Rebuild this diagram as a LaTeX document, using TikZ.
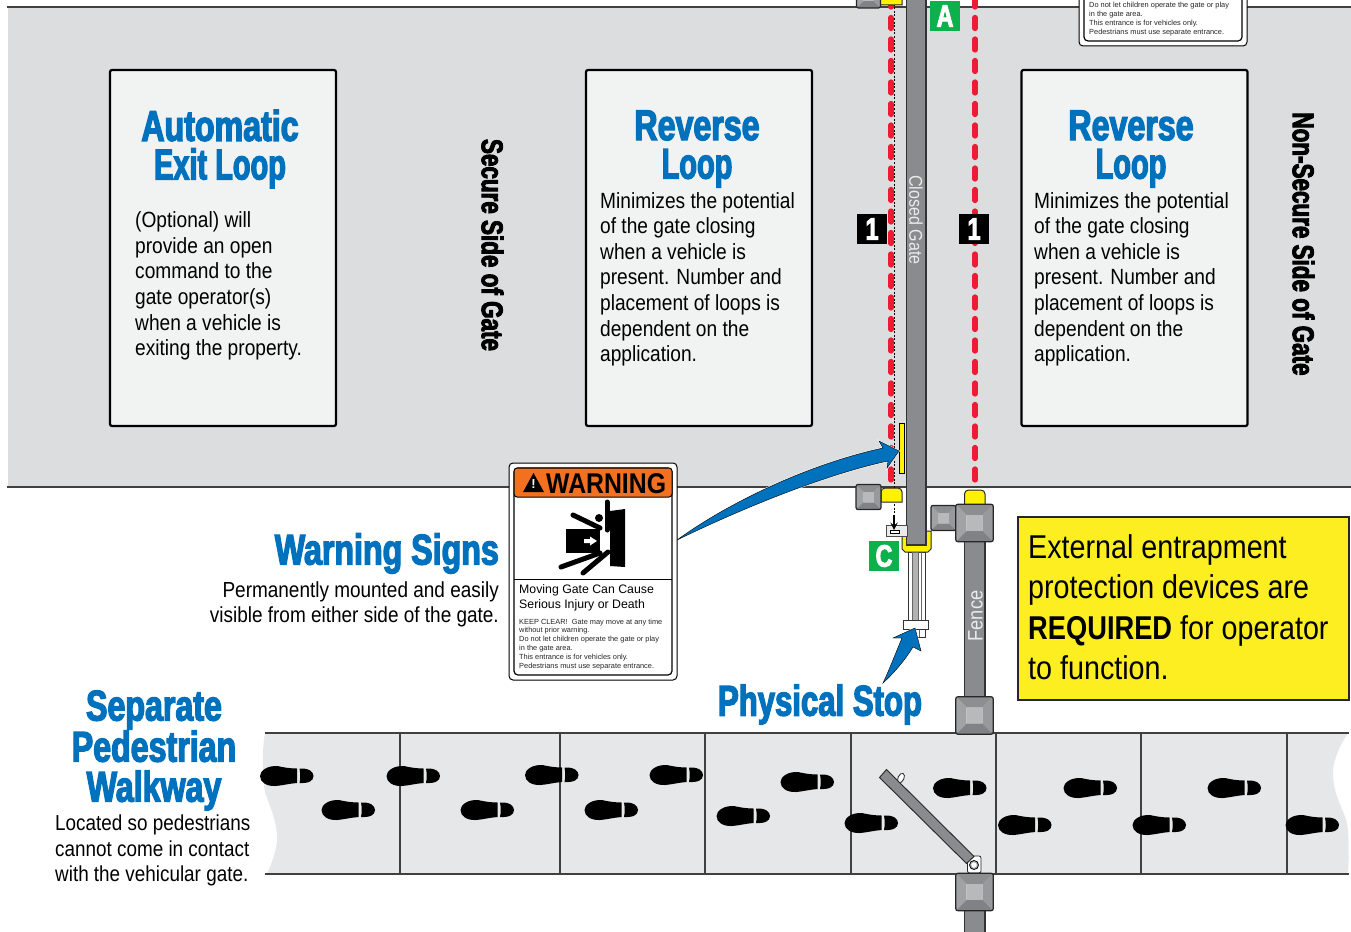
\documentclass[tikz,border=0pt]{standalone}
\usepackage{fontspec}
\setmainfont{Liberation Sans}
\newfontfamily\condfont[FakeStretch=0.87]{Liberation Sans}
\newfontfamily\headfont[FakeStretch=0.748,BoldFeatures={FakeBold=3}]{Liberation Sans}
\newcommand{\narrowline}[1]{\scalebox{.9}[1]{#1}}
\definecolor{roadgray}{HTML}{DCDDDE}
\definecolor{walkgray}{HTML}{E6E7E8}
\definecolor{boxfill}{HTML}{F1F3F3}
\definecolor{headblue}{HTML}{0071BC}
\definecolor{gatered}{HTML}{ED1C34}
\definecolor{gategray}{HTML}{898B8E}
\definecolor{capyellow}{HTML}{FFF200}
\definecolor{noteyellow}{HTML}{FDEE21}
\definecolor{tagorange}{HTML}{F37021}
\definecolor{taggreen}{HTML}{0DB14B}
\tikzset{
  loopbox/.style={draw=black, fill=boxfill, line width=2.2pt, rounded corners=2pt, minimum width=226pt, minimum height=356pt},
  heading/.style={text=headblue, align=center, inner sep=0pt, font=\headfont\bfseries\fontsize{43}{38.5}\selectfont},
  bodytext/.style={align=left, anchor=north west, inner sep=0pt, font=\condfont\fontsize{22}{25.6}\selectfont},
  sidetext/.style={rotate=-90, inner sep=0pt, font=\headfont\bfseries\fontsize{30}{30}\selectfont},
  numtag/.style={fill=black, text=white, minimum size=30pt, inner sep=0pt, font=\headfont\bfseries\fontsize{31}{31}\selectfont},
  lettertag/.style={fill=taggreen, text=white, minimum size=30pt, inner sep=0pt, font=\headfont\bfseries\fontsize{31}{31}\selectfont},
  redline/.style={draw=gatered, line width=5.2pt, line cap=round, dash pattern=on 11pt off 10.5pt},
  barline/.style={draw=black!80, line width=1.2pt, fill=gategray},
  capshape/.style={draw=black!85, line width=1pt, fill=capyellow},
  walkline/.style={draw=black!75, line width=1.1pt},
  blueshaft/.style={fill=headblue, preaction={draw=white, line width=1.5pt}},
  post/.pic={
    \fill[postleft] (-1,-1) -- (-1,1) -- (-.42,.42) -- (-.42,-.42) -- cycle;
    \fill[postright] (1,-1) -- (1,1) -- (.42,.42) -- (.42,-.42) -- cycle;
    \fill[posttop] (-1,-1) -- (1,-1) -- (.42,-.42) -- (-.42,-.42) -- cycle;
    \fill[postbot] (-1,1) -- (1,1) -- (.42,.42) -- (-.42,.42) -- cycle;
    \fill[postmid] (-.42,-.42) rectangle (.42,.42);
    \draw[black!85, line width=1.2pt, rounded corners=2pt] (-1,-1) rectangle (1,1);
  },
  foot/.pic={
    \fill[black] (-26.5,0) .. controls (-26.5,-6) and (-18,-10.5) .. (-9,-10) .. controls (-3,-8.5) and (4,-7.5) .. (10.5,-7.5) -- (10.5,7) .. controls (3,7.5) and (-4,9.5) .. (-11,10) .. controls (-20,10.5) and (-26.5,6) .. (-26.5,0);
    \fill[black] (13,-7.5) .. controls (22,-8) and (27,-4.5) .. (27,0) .. controls (27,5) and (22,7.5) .. (13,7) .. controls (14,2) and (14,-2) .. (13,-7.5);
  },
}
\definecolor{postleft}{HTML}{A0A2A4}
\definecolor{postright}{HTML}{97999C}
\definecolor{posttop}{HTML}{8C8E90}
\definecolor{postbot}{HTML}{808285}
\definecolor{postmid}{HTML}{B7B9BB}
\begin{document}
\begin{tikzpicture}[x=1pt, y=-1pt]
    \useasboundingbox (0,0) rectangle (1351,931);

    % road
    \fill[roadgray] (8,7) rectangle (1351,487);
    \draw[black!75, line width=1.2pt] (7,7) -- (1351,7);
    \draw[black!75, line width=1.2pt] (7,487) -- (1351,487);

    % text panels
    \node[loopbox] (exitbox) at (223,248) {};
    \node[loopbox] (revboxa) at (699,248) {};
    \node[loopbox] (revboxb) at (1134.5,248) {};

    \node[heading] (exithead) at (220,149) {Automatic\\\narrowline{Exit Loop}};
    \node[heading] (revheada) at (697,149) {Reverse\\\narrowline{Loop}};
    \node[heading] (revheadb) at (1131,149) {Reverse\\\narrowline{Loop}};
    \node[bodytext] (exittext) at (135,211.5) {(Optional) will\\provide an open\\command to the\\gate operator(s)\\when a vehicle is\\exiting the property.};
    \node[bodytext] (revtexta) at (600,192) {Minimizes the potential\\of the gate closing\\when a vehicle is\\present. Number and\\placement of loops is\\dependent on the\\application.};
    \node[bodytext] (revtextb) at (1034,192) {Minimizes the potential\\of the gate closing\\when a vehicle is\\present. Number and\\placement of loops is\\dependent on the\\application.};

    \node[sidetext] (secure) at (492.5,245) {Secure Side of Gate};
    \node[sidetext] (nonsecure) at (1303.5,244) {Non-Secure Side of Gate};

    % top sign, cut by the page edge
    \draw[black, line width=1pt, fill=white, rounded corners=4pt] (1079,-12) rectangle (1247,46);
    \draw[black, line width=1.2pt, fill=white, rounded corners=4pt] (1084,-12) rectangle (1242,41);
    \node[align=left, anchor=north west, inner sep=0pt, text=black!85, font=\fontsize{7.4}{8.9}\selectfont] (topsign) at (1089,2) {Do not let children operate the gate or play\\in the gate area.\\This entrance is for vehicles only.\\Pedestrians must use separate entrance.};

    % safety lines
    \draw[redline] (891,-4) -- (891,487);
    \draw[redline] (975,-4) -- (975,487);
    \draw[black, line width=1pt, dash pattern=on 2pt off 1.6pt] (894,0) -- (894,525);

    % gate
    \draw[capshape] (902,531) -- (902,549) -- (905,552) -- (928,552) -- (931,549) -- (931,531) -- cycle;
    \draw[barline] (906.5,-4) rectangle (926,545);
    \node[rotate=-90, inner sep=0pt, text=black!8, font=\condfont\fontsize{18.5}{19}\selectfont] (closedgate) at (916,220) {Closed Gate};
    \draw[black, line width=.8pt, fill=capyellow] (899,423) rectangle (904,473);

    % track and stop
    \draw[black!80, line width=.8pt, fill=white] (908,552) rectangle (925,620);
    \draw[black!60, line width=.6pt, fill=gray!60] (912,552) rectangle (918,620);
    \draw[black!60, line width=.6pt] (921,552) -- (921,620);
    \draw[black!80, line width=.8pt, fill=white] (914,629) rectangle (925,637);
    \draw[black!60, line width=.6pt] (919,629) -- (919,637);
    \draw[black!80, line width=.8pt, fill=white] (903.5,620) rectangle (928,629);

    % sensor bracket
    \draw[black!70, line width=.8pt, fill=black!8] (886.5,525) rectangle (907,536);
    \draw[black, line width=.6pt, fill=white] (890,530) rectangle (899,533);
    \draw[black, line width=2.2pt, -stealth] (894,515) -- (894,530);

    % posts and caps
    \draw[capshape] (880,8) [rounded corners=4pt] -- (880,-6) -- (902,-6) [sharp corners] -- (902,5) -- (880,5) -- cycle;
    \pic[scale=12] at (868.5,-4) {post};
    \draw[capshape] (881,502) [rounded corners=4pt] -- (881,488) -- (902,488) [sharp corners] -- (902,502) -- cycle;
    \pic[scale=12.5] at (868.5,497) {post};
    \draw[capshape] (964.5,506) [rounded corners=4pt] -- (964.5,490) -- (985,490) [sharp corners] -- (985,506) -- cycle;
    \draw[barline] (964.5,540) rectangle (985,699);
    \draw[barline] (964.5,909) rectangle (985,936);
    \node[rotate=90, inner sep=0pt, text=black!8, font=\condfont\fontsize{21}{21}\selectfont] (fence) at (975.5,616) {Fence};
    \pic[scale=12.5] at (943.5,518) {post};
    \pic[scale=18.7] at (974.5,523) {post};

    % tags
    \node[lettertag] (taga) at (945,16) {A};
    \node[lettertag] (tagc) at (884,556) {C};
    \node[numtag] (numa) at (872,229) {1};
    \node[numtag] (numb) at (974,229) {1};

    % arrows
    \draw[blueshaft] (677,540) .. controls (725,505) and (805,465) .. (883,448) -- (879,441) -- (899,451) -- (887,468) -- (888,461) .. controls (845,470) and (770,495) .. (677,540) -- cycle;
    \draw[blueshaft] (883,683) .. controls (890,668) and (896,652) .. (902,638) -- (893,638) -- (915,628) -- (921,651) -- (913,647) .. controls (905,660) and (895,672) .. (883,683) -- cycle;

    % warning sign
    \draw[black, line width=1pt, fill=white, rounded corners=4pt] (509,463) rectangle (677,680);
    \draw[black, line width=1.2pt, fill=white, rounded corners=4pt] (514,468) rectangle (672,675);
    \draw[black, line width=1pt, fill=tagorange, rounded corners=3pt] (514,497) -- (514,468) -- (672,468) -- (672,497) -- cycle;
    \draw[black, line width=1pt] (514,579) -- (672,579);
    \fill[black] (523,492) -- (544,492) -- (533.5,473) -- cycle;
    \node[inner sep=0pt, text=white, font=\bfseries\fontsize{13}{13}\selectfont] (warnmark) at (533.5,484.5) {!};
    \node[inner sep=0pt, anchor=west, font=\condfont\bfseries\fontsize{28.5}{29}\selectfont] (warnword) at (546,483.5) {WARNING};
    \fill[black] (610,511) -- (625,509) -- (625,567) -- (610,566) -- cycle;
    \fill[black] (566,529) rectangle (600,553);
    \fill[white] (584,539) -- (590,539) -- (590,536.5) -- (597,541) -- (590,545.5) -- (590,543) -- (584,543) -- cycle;
    \fill[black] (599,518) circle (4);
    \draw[black, line width=5pt, line cap=round] (607,502) -- (607,530);
    \draw[black, line width=5pt, line cap=round] (573,515) -- (600,528);
    \draw[black, line width=5pt, line cap=round] (561,567) -- (600,553);
    \draw[black, line width=5pt, line cap=round] (583,573) -- (608,552);
    \node[align=left, anchor=north west, inner sep=0pt, font=\fontsize{12.3}{15}\selectfont] (warnsub) at (519,584) {Moving Gate Can Cause\\Serious Injury or Death};
    \node[align=left, anchor=north west, inner sep=0pt, text=black!85, font=\fontsize{7.4}{8.9}\selectfont] (warnfine) at (519,618.5) {KEEP CLEAR!\ \ Gate may move at any time\\without prior warning.\\Do not let children operate the gate or play\\in the gate area.\\This entrance is for vehicles only.\\Pedestrians must use separate entrance.};

    % left labels
    \node[heading, anchor=east] (warnhead) at (499,553.5) {Warning Signs};
    \node[align=right, anchor=north east, inner sep=0pt, font=\condfont\fontsize{21.8}{25.4}\selectfont] (warntext) at (499,581.5) {Permanently mounted and easily\\visible from either side of the gate.};
    \node[heading] (stophead) at (820,704.5) {\scalebox{.967}[1]{Physical Stop}};
    \node[heading, font=\headfont\bfseries\fontsize{43}{40}\selectfont] (walkhead) at (154,750.5) {Separate\\Pedestrian\\Walkway};
    \node[align=left, anchor=north west, inner sep=0pt, font=\condfont\fontsize{21.7}{25.6}\selectfont] (walktext) at (55,814.5) {Located so pedestrians\\cannot come in contact\\with the vehicular gate.};

    % yellow note
    \node[draw=black!85, fill=noteyellow, line width=1.6pt, minimum width=331pt, minimum height=183pt, inner sep=0pt] (notebox) at (1183.5,608.5) {};
    \node[align=left, anchor=north west, inner sep=0pt, font=\condfont\fontsize{33}{40.5}\selectfont] (notetext) at (1028,534) {External entrapment\\protection devices are\\\scalebox{.95}[1]{\textbf{REQUIRED}} for operator\\to function.};

    % walkway
    \fill[walkgray] (265,733) .. controls (262,750) and (262,775) .. (265,792) .. controls (270,808) and (277,820) .. (277,838) .. controls (277,850) and (272,862) .. (267,874) -- (1348,874) .. controls (1349,855) and (1349,835) .. (1347,823) .. controls (1343,808) and (1333,795) .. (1333,773) .. controls (1333,760) and (1340,745) .. (1348,733) -- cycle;
    \draw[walkline] (265,733) -- (1349,733);
    \draw[walkline] (265,874) -- (1349,874);
    \draw[walkline] (400,733) -- (400,874);
    \draw[walkline] (560,733) -- (560,874);
    \draw[walkline] (705,733) -- (705,874);
    \draw[walkline] (851,733) -- (851,874);
    \draw[walkline] (996,733) -- (996,874);
    \draw[walkline] (1141,733) -- (1141,874);
    \draw[walkline] (1287,733) -- (1287,874);

    \pic at (286.5,776) {foot};
    \pic at (348,810) {foot};
    \pic at (413,776) {foot};
    \pic at (487,810) {foot};
    \pic at (551.5,775) {foot};
    \pic at (611,810) {foot};
    \pic at (676,775) {foot};
    \pic at (743,816) {foot};
    \pic at (807,782) {foot};
    \pic at (871,823) {foot};
    \pic at (959.5,788) {foot};
    \pic at (1024.5,825) {foot};
    \pic at (1090,788) {foot};
    \pic at (1159,825) {foot};
    \pic at (1234,788) {foot};
    \pic at (1312,825) {foot};

    % open pedestrian gate
    \draw[black!85, line width=.8pt, fill=white, rotate around={-25:(901,778)}] (901,778) ellipse (3 and 5);
    \draw[black!85, line width=.8pt, fill=white, rounded corners=2pt] (967.5,856) rectangle (981,873);
    \draw[black, line width=.8pt, fill=gray!60] (974,865) circle (4.5);
    \fill[white] (974,865) circle (2.6);
    \draw[black!85, line width=.9pt, fill=gategray] (879.5,777.5) -- (886.5,769.5) -- (974,856.5) -- (966.5,863.5) -- cycle;

    % posts on the walkway
    \pic[scale=18.7] at (974.5,715.5) {post};
    \pic[scale=18.7] at (974.5,892) {post};
\end{tikzpicture}
\end{document}
